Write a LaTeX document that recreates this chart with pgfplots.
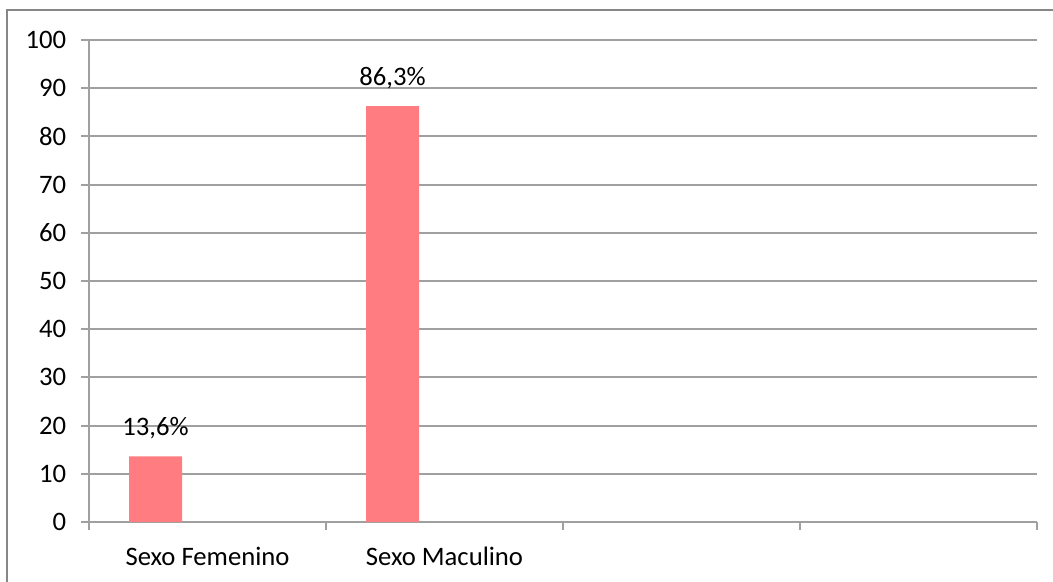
\documentclass[border=0pt]{standalone}
\usepackage{pgfplots}
\pgfplotsset{compat=1.18}
\usepackage{fontspec}
\setmainfont{Carlito}
\definecolor{barc}{HTML}{FF7C80}
\definecolor{gridc}{HTML}{A0A0A0}
\definecolor{framec}{HTML}{878787}
\begin{document}
\begin{tikzpicture}
\useasboundingbox (0,0) rectangle (394.875pt,218.25pt);
\draw[framec, line width=0.75pt] (2.44pt,-2pt) -- (2.44pt,214.5pt) -- (400pt,214.5pt);
\begin{axis}[
 at={(33.375pt,22.5pt)}, anchor=south west,
 scale only axis, width=355.5pt, height=180.75pt,
 xmin=0, xmax=4, ymin=0, ymax=100,
 axis x line=bottom, axis y line=left,
 axis line style={-, gridc, line width=0.75pt},
 ytick={0,10,...,100},
 ymajorgrids, grid style={gridc, line width=0.75pt},
 tick align=outside, major tick length=3pt, minor tick length=3pt,
 tick style={gridc, line width=0.75pt},
 xtick={0.5,1.5}, xticklabels={Sexo Femenino, Sexo Maculino},
 major x tick style={draw=none},
 minor xtick={0,1,2,3,4},
 minor x tick style={gridc, line width=0.75pt},
 x tick label style={yshift=-3pt},
 y tick label style={xshift=-2pt},
 /pgf/number format/assume math mode=true,
 ticklabel style={font=\fontsize{10}{12}\selectfont},
]
\addplot[ybar, bar width=0.2236, fill=barc, draw=none,
  nodes near coords={\pgfmathprintnumber[use comma,fixed,precision=1,assume math mode=true]{\pgfplotspointmeta}\%},
  every node near coord/.append style={font=\fontsize{10}{12}\selectfont, black, yshift=3pt}]
  coordinates {(0.2806,13.6) (1.2806,86.3)};
\end{axis}
\end{tikzpicture}
\end{document}
